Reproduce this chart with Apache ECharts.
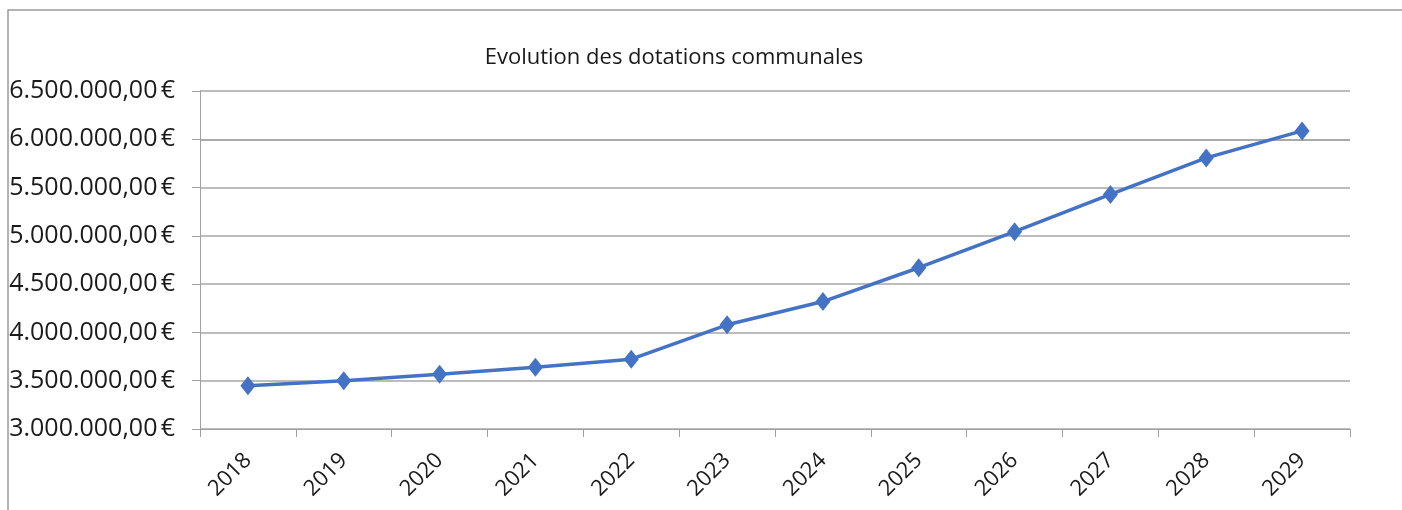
<!DOCTYPE html>
<html><head><meta charset="utf-8">
<script src="https://cdn.jsdelivr.net/npm/echarts@6/dist/echarts.min.js"></script>
<style>html,body{margin:0;padding:0;background:#fff}#c{width:1402px;height:510px}</style>
</head><body><div id="c"></div>
<script>
var title = 'Evolution des dotations communales';
var years = ['2018','2019','2020','2021','2022','2023','2024','2025','2026','2027','2028','2029'];
var dotations = [3448000,3500000,3567000,3640000,3723000,4079000,4320000,4670000,5043000,5429000,5807000,6087000];
var yMin = 3000000, yMax = 6500000, yStep = 500000;

function fmt(v){
  var s = String(Math.round(v)).replace(/\B(?=(\d{3})+(?!\d))/g,'.');
  return s + ',00\u202F€';
}
var FONT = '"Open Sans", sans-serif';
var chart = echarts.init(document.getElementById('c'), null, {renderer:'canvas'});
chart.setOption({
  animation:false,
  backgroundColor:'#fff',
  title:{text:title,left:669,top:42,textAlign:'center',
    textStyle:{fontFamily:FONT,fontSize:22,fontWeight:'normal',color:'#1a1a1a'}},
  grid:{left:200,right:52,top:91,bottom:81,containLabel:false,outerBoundsMode:'none'},
  xAxis:{type:'category',data:years,boundaryGap:true,
    axisLine:{lineStyle:{color:'#a0a0a0',width:1}},
    axisTick:{show:true,length:8,lineStyle:{color:'#a0a0a0'}},
    axisLabel:{rotate:45,fontFamily:FONT,fontSize:22,color:'#1a1a1a',margin:28},
    splitLine:{show:false}},
  yAxis:{type:'value',min:yMin,max:yMax,interval:yStep,
    axisLine:{show:true,lineStyle:{color:'#a0a0a0',width:1}},
    axisTick:{show:true,length:8,lineStyle:{color:'#a0a0a0'}},
    axisLabel:{formatter:fmt,fontFamily:FONT,fontSize:25,color:'#1a1a1a',margin:25},
    splitLine:{show:true,lineStyle:{color:['#a6a6a6','#a6a6a6','#a6a6a6','#a6a6a6','#a6a6a6','#a6a6a6','#8c8c8c','#a6a6a6'],width:1.5}}},
  series:[{type:'line',data:dotations,symbol:'diamond',symbolSize:[15,19],
    lineStyle:{color:'#4472C4',width:3.5},itemStyle:{color:'#4472C4'}}],
  graphic:[{type:'polyline',shape:{points:[[8,510],[8,10],[1402,10]]},
    style:{stroke:'#9a9a9a',lineWidth:1.5,fill:null}}]
});
</script></body></html>
